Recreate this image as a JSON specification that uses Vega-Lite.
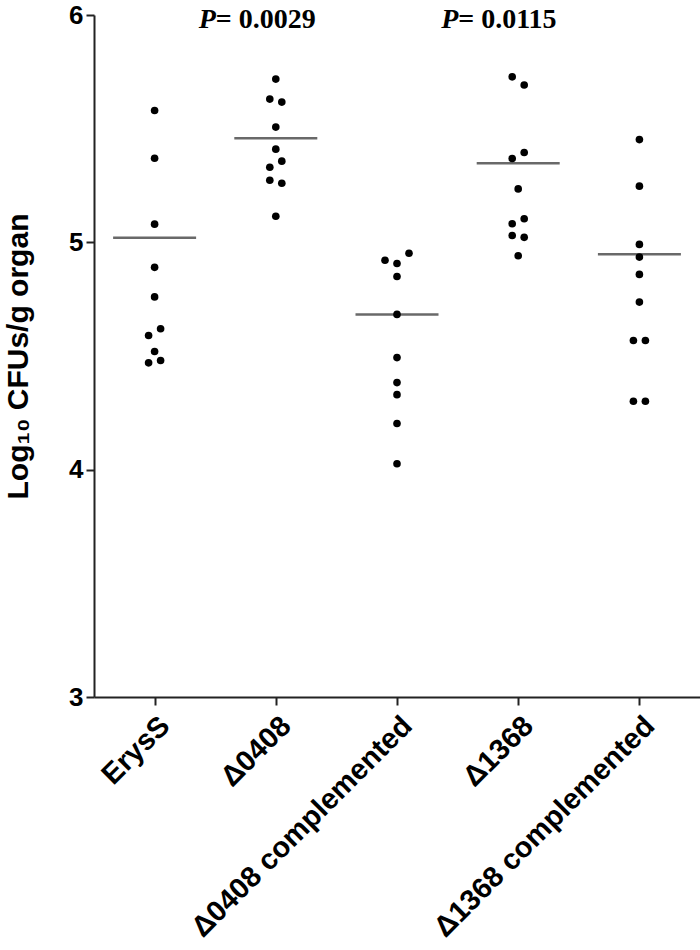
{
  "$schema": "https://vega.github.io/schema/vega-lite/v6.json",
  "autosize": {"type": "none"},
  "width": 606,
  "height": 682,
  "padding": {"left": 94, "top": 15, "right": 0, "bottom": 253},
  "background": "white",
  "config": {
    "view": {"stroke": null},
    "font": "Liberation Sans"
  },
  "datasets": {
    "points": [
      {"group": "ErysS", "lane": "C", "value": 5.58},
      {"group": "ErysS", "lane": "C", "value": 5.37},
      {"group": "ErysS", "lane": "C", "value": 5.08},
      {"group": "ErysS", "lane": "C", "value": 4.89},
      {"group": "ErysS", "lane": "C", "value": 4.76},
      {"group": "ErysS", "lane": "R", "value": 4.62},
      {"group": "ErysS", "lane": "L", "value": 4.59},
      {"group": "ErysS", "lane": "C", "value": 4.52},
      {"group": "ErysS", "lane": "R", "value": 4.48},
      {"group": "ErysS", "lane": "L", "value": 4.47},
      {"group": "Δ0408", "lane": "C", "value": 5.718},
      {"group": "Δ0408", "lane": "L", "value": 5.63},
      {"group": "Δ0408", "lane": "R", "value": 5.617},
      {"group": "Δ0408", "lane": "C", "value": 5.507},
      {"group": "Δ0408", "lane": "C", "value": 5.41},
      {"group": "Δ0408", "lane": "R", "value": 5.357},
      {"group": "Δ0408", "lane": "L", "value": 5.33},
      {"group": "Δ0408", "lane": "L", "value": 5.273},
      {"group": "Δ0408", "lane": "R", "value": 5.26},
      {"group": "Δ0408", "lane": "C", "value": 5.115},
      {"group": "Δ0408 complemented", "lane": "R2", "value": 4.952},
      {"group": "Δ0408 complemented", "lane": "L2", "value": 4.921},
      {"group": "Δ0408 complemented", "lane": "C", "value": 4.907},
      {"group": "Δ0408 complemented", "lane": "C", "value": 4.85},
      {"group": "Δ0408 complemented", "lane": "C", "value": 4.683},
      {"group": "Δ0408 complemented", "lane": "C", "value": 4.493},
      {"group": "Δ0408 complemented", "lane": "C", "value": 4.383},
      {"group": "Δ0408 complemented", "lane": "C", "value": 4.33},
      {"group": "Δ0408 complemented", "lane": "C", "value": 4.203},
      {"group": "Δ0408 complemented", "lane": "C", "value": 4.026},
      {"group": "Δ1368", "lane": "L", "value": 5.728},
      {"group": "Δ1368", "lane": "R", "value": 5.692},
      {"group": "Δ1368", "lane": "R", "value": 5.395},
      {"group": "Δ1368", "lane": "L", "value": 5.369},
      {"group": "Δ1368", "lane": "C", "value": 5.235},
      {"group": "Δ1368", "lane": "R", "value": 5.104},
      {"group": "Δ1368", "lane": "L", "value": 5.082},
      {"group": "Δ1368", "lane": "L", "value": 5.03},
      {"group": "Δ1368", "lane": "R", "value": 5.022},
      {"group": "Δ1368", "lane": "C", "value": 4.941},
      {"group": "Δ1368 complemented", "lane": "C", "value": 5.452},
      {"group": "Δ1368 complemented", "lane": "C", "value": 5.247},
      {"group": "Δ1368 complemented", "lane": "C", "value": 4.991},
      {"group": "Δ1368 complemented", "lane": "C", "value": 4.935},
      {"group": "Δ1368 complemented", "lane": "C", "value": 4.859},
      {"group": "Δ1368 complemented", "lane": "C", "value": 4.737},
      {"group": "Δ1368 complemented", "lane": "L", "value": 4.568},
      {"group": "Δ1368 complemented", "lane": "R", "value": 4.568},
      {"group": "Δ1368 complemented", "lane": "L", "value": 4.301},
      {"group": "Δ1368 complemented", "lane": "R", "value": 4.301}
    ],
    "means": [
      {"group": "ErysS", "mean": 5.02},
      {"group": "Δ0408", "mean": 5.458},
      {"group": "Δ0408 complemented", "mean": 4.683},
      {"group": "Δ1368", "mean": 5.348},
      {"group": "Δ1368 complemented", "mean": 4.948}
    ],
    "pvalues": [
      {"group": "Δ0408", "p": "= 0.0029"},
      {"group": "Δ1368", "p": "= 0.0115"}
    ]
  },
  "layer": [
    {
      "data": {"name": "means"},
      "mark": {"type": "tick", "size": 83, "thickness": 2.5, "color": "#2a2a2a"},
      "encoding": {
        "x": {
          "field": "group", "type": "nominal",
          "sort": ["ErysS", "Δ0408", "Δ0408 complemented", "Δ1368", "Δ1368 complemented"],
          "scale": {"type": "point", "padding": 0.5},
          "axis": {
            "title": null,
            "labelAngle": -45,
            "labelLimit": 0,
            "labelFont": "Liberation Sans",
            "labelFontWeight": "bold",
            "labelFontSize": 29,
            "labelColor": "black",
            "labelPadding": 6,
            "tickSize": 8,
            "tickColor": "#222",
            "tickWidth": 2,
            "domainColor": "#222",
            "domainWidth": 2,
            "grid": false
          }
        },
        "y": {
          "field": "mean", "type": "quantitative",
          "scale": {"domain": [3, 6], "nice": false, "zero": false},
          "axis": {
            "title": "Log₁₀ CFUs/g organ",
            "titleFont": "Liberation Sans",
            "titleFontWeight": "bold",
            "titleFontSize": 30,
            "titleColor": "black",
            "titlePadding": 35,
            "values": [3, 4, 5, 6],
            "format": "d",
            "labelFont": "Liberation Sans",
            "labelFontWeight": "bold",
            "labelFontSize": 26,
            "labelColor": "black",
            "labelPadding": 3,
            "tickSize": 8,
            "tickColor": "#222",
            "tickWidth": 2,
            "domainColor": "#222",
            "domainWidth": 2,
            "grid": false
          }
        }
      }
    },
    {
      "data": {"name": "points"},
      "mark": {"type": "point", "filled": true, "shape": "circle", "size": 58, "color": "black", "opacity": 1},
      "encoding": {
        "x": {"field": "group", "type": "nominal"},
        "xOffset": {
          "field": "lane", "type": "nominal",
          "scale": {"type": "point", "domain": ["L2", "L", "C", "R", "R2"], "range": [-12, 12], "padding": 0}
        },
        "y": {"field": "value", "type": "quantitative"}
      }
    },
    {
      "data": {"name": "pvalues"},
      "mark": {"type": "text", "text": "P", "font": "Liberation Serif", "fontStyle": "italic", "fontWeight": "bold", "fontSize": 28, "align": "left", "baseline": "alphabetic", "dx": -77, "dy": 13, "color": "black"},
      "encoding": {
        "x": {"field": "group", "type": "nominal"},
        "y": {"datum": 6}
      }
    },
    {
      "data": {"name": "pvalues"},
      "mark": {"type": "text", "font": "Liberation Serif", "fontWeight": "bold", "fontSize": 28, "align": "left", "baseline": "alphabetic", "dx": -60, "dy": 13, "color": "black"},
      "encoding": {
        "x": {"field": "group", "type": "nominal"},
        "y": {"datum": 6},
        "text": {"field": "p"}
      }
    }
  ]
}
